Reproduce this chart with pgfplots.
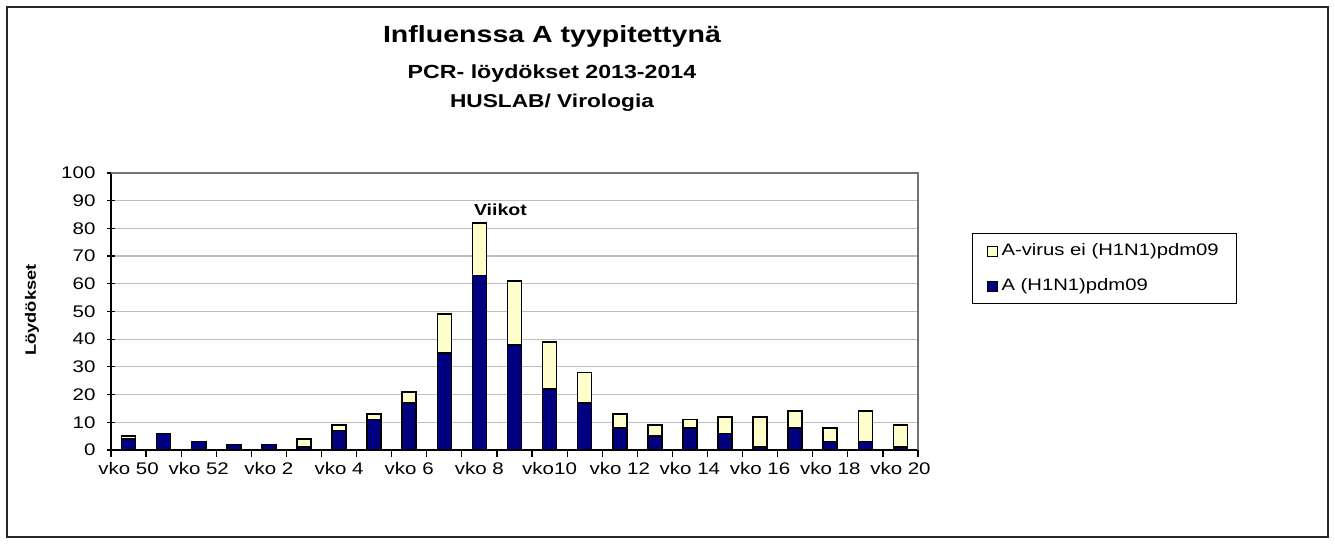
\documentclass[border=0pt]{standalone}
\usepackage{pgfplots}
\pgfplotsset{compat=1.18}
\usepackage{fontspec}
\setmainfont{Liberation Sans}[FakeStretch=1.22]
\definecolor{navyb}{HTML}{000080}
\definecolor{paley}{HTML}{FFFFCC}
\begin{document}
\begin{tikzpicture}
\useasboundingbox (0,0) rectangle (667.5pt,272pt);
\draw[line width=1pt, black!85] (3.5pt,3.5pt) rectangle (664pt,268.5pt);
\node[anchor=base, font=\bfseries\fontsize{11.7}{13}\selectfont] at (276pt,250.5pt) {Influenssa A tyypitettynä};
\node[anchor=base, font=\bfseries\fontsize{9.5}{11}\selectfont] at (276pt,232.5pt) {PCR- löydökset 2013-2014};
\node[anchor=base, font=\bfseries\fontsize{9.3}{11}\selectfont] at (276pt,218pt) {HUSLAB/ Virologia};
\node[rotate=90, font=\bfseries\fontsize{7.5}{9}\selectfont] at (16pt,117pt) {Löydökset};
\begin{axis}[
  at={(55.5pt,47pt)}, anchor=south west,
  scale only axis, width=403.5pt, height=138.5pt,
  ybar stacked, bar width=0.4,
  xmin=-0.5, xmax=22.5, ymin=0, ymax=100,
  ytick={0,10,...,100},
  xtick={0,2,...,22},
  xticklabels={vko 50,vko 52,vko 2,vko 4,vko 6,vko 8,vko10,vko 12,vko 14,vko 16,vko 18,vko 20},
  xtick style={draw=none},
  major tick length=3.5pt,
  tick align=outside,
  ytick style={black, line width=0.6pt},
  axis lines=left,
  axis line style={-, black, line width=0.8pt},
  ymajorgrids, xmajorgrids=false,
  grid style={black!25, line width=0.6pt},
  /pgf/number format/assume math mode=true,
  ticklabel style={font=\fontsize{8.4}{10}\selectfont},
  xticklabel style={yshift=-1pt},
  yticklabel style={xshift=-2.5pt},
  reverse legend,
  legend style={at={(1.067,0.783)}, anchor=north west, draw=black, line width=0.5pt,
    font=\fontsize{8.3}{10}\selectfont, inner xsep=7pt, inner ysep=3pt, row sep=6pt},
  legend cell align=left,
  after end axis/.code={
    \draw[black!55, line width=1pt] (rel axis cs:0,1) -- (rel axis cs:1,1) -- (rel axis cs:1,0);
    \foreach \i in {-0.5,0.5,...,22.5} {\draw[black, line width=0.6pt] (axis cs:\i,0) -- ++(0pt,-3.5pt);}
  },
]
\addplot[fill=navyb, draw=black, line width=0.8pt,
  legend image code/.code={\draw[fill=navyb, draw=black, line width=0.5pt] (0pt,-2.5pt) rectangle (5pt,2.5pt);}]
  coordinates {(0,4)(1,6)(2,3)(3,2)(4,2)(5,1)(6,7)(7,11)(8,17)(9,35)(10,63)(11,38)(12,22)(13,17)(14,8)(15,5)(16,8)(17,6)(18,1)(19,8)(20,3)(21,3)(22,1)};
\addlegendentry{A (H1N1)pdm09}
\addplot[fill=paley, draw=black, line width=0.8pt,
  legend image code/.code={\draw[fill=paley, draw=black, line width=0.5pt] (0pt,-2.5pt) rectangle (5pt,2.5pt);}]
  coordinates {(0,1)(1,0)(2,0)(3,0)(4,0)(5,3)(6,2)(7,2)(8,4)(9,14)(10,19)(11,23)(12,17)(13,11)(14,5)(15,4)(16,3)(17,6)(18,11)(19,6)(20,5)(21,11)(22,8)};
\addlegendentry{A-virus ei (H1N1)pdm09}
\node[font=\bfseries\fontsize{8}{10}\selectfont] at (axis cs:10.6,86.6) {Viikot};
\end{axis}
\end{tikzpicture}
\end{document}
